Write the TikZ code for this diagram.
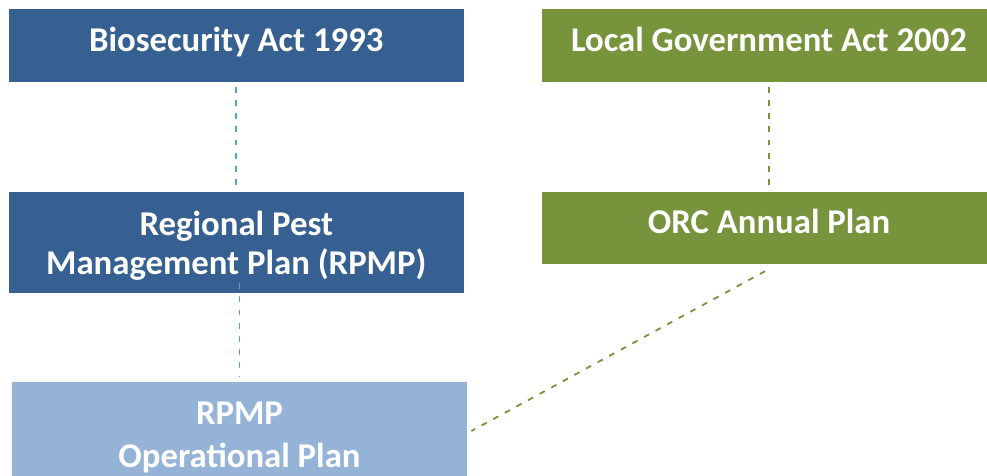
\documentclass[tikz,border=0pt]{standalone}
\usepackage{fontspec}
\setmainfont{Carlito}

\definecolor{ActBlue}{RGB}{55,96,146}
\definecolor{PlanLightBlue}{RGB}{149,179,215}
\definecolor{ActGreen}{RGB}{119,147,60}
\definecolor{LinkCyan}{RGB}{75,172,198}

\begin{document}
\begin{tikzpicture}[x=1pt, y=-1pt,
        planbox/.style={rectangle, minimum width=454.5pt, text=white, align=center, inner sep=0pt,
            text height=24pt, text depth=13pt, font=\bfseries\fontsize{34.75}{39}\selectfont},
        bluelink/.style={LinkCyan, line width=1.8pt, dash pattern=on 5.8pt off 7.4pt},
        greenlink/.style={ActGreen, line width=1.8pt, dash pattern=on 5.8pt off 7.4pt}]
                \useasboundingbox (0,0) rectangle (987,475);
                \clip (0,0) rectangle (987,475);
                % Legislation on the top row
                \node[planbox, fill=ActBlue, minimum height=73pt] (bio) at (236.3,45.5) {Biosecurity Act 1993};
                \node[planbox, fill=ActGreen, minimum height=73pt] (lga) at (769,45.5) {Local Government Act 2002};
                % Plans made under each act (two-line boxes sit on their last line)
                \node[planbox, fill=ActBlue, minimum height=101pt, text height=63pt, text depth=0pt] (rpmp) at (236.3,242.5) {Regional Pest\\Management Plan (RPMP)};
                \node[planbox, fill=ActGreen, minimum height=72pt] (orc) at (769,228) {ORC Annual Plan};
                % Operational plan, runs past the bottom edge
                \node[planbox, fill=PlanLightBlue, minimum height=108pt, text height=67pt, text depth=5pt] (oper) at (239.5,436) {RPMP\\[4pt]Operational Plan};
                % Dashed links between the boxes
                \draw[bluelink, shorten <=4.5pt, shorten >=7pt] (bio) -- (rpmp);
                \draw[bluelink, shorten <=-10pt, shorten >=5pt] (oper.north |- rpmp.south) -- (oper.north);
                \draw[greenlink, shorten <=4.5pt, shorten >=7pt] (lga) -- (orc);
                \draw[greenlink] ([xshift=-4pt, yshift=-7pt]orc.south) -- ([xshift=4.5pt, yshift=5pt]oper.east);
            \end{tikzpicture}
\end{document}
